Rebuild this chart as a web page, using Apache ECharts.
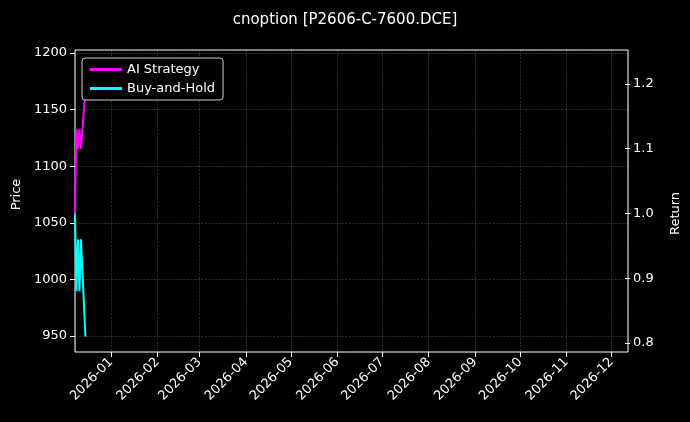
<!DOCTYPE html>
<html><head><meta charset="utf-8">
<script src="https://cdn.jsdelivr.net/npm/echarts@6/dist/echarts.min.js"></script>
<style>html,body{margin:0;background:#000}#main{width:690px;height:422px}</style>
</head><body><div id="main"></div>
<script>
var dates = ['2025-12-08','2025-12-09','2025-12-10','2025-12-11','2025-12-12','2025-12-15'];
var aiStrategy = [1.00, 1.13, 1.10, 1.13, 1.10, 1.19];
var buyHold = [1.00, 0.88, 0.96, 0.88, 0.96, 0.81];

function pairs(v){ return v.map(function(y,i){ return [dates[i], y]; }); }
var grey = 'rgba(200,200,200,0.35)';
var xMin = '2025-12-08', xMax = '2026-12-12';

var myChart = echarts.init(document.getElementById('main'));
myChart.setOption({
	backgroundColor: '#000',
	textStyle: {fontFamily: 'DejaVu Sans'},
	title: {text: 'cnoption [P2606-C-7600.DCE]', left: 'center', top: 8,
		textStyle: {color: '#fff', fontSize: 15, fontWeight: 'normal'}},
	legend: {left: 82, top: 58, orient: 'vertical', itemGap: 6, padding: [5, 8],
		borderColor: '#ccc', borderWidth: 1, borderRadius: 3, backgroundColor: '#000',
		itemWidth: 32, itemHeight: 3, icon: 'rect',
		textStyle: {color: '#fff', fontSize: 13},
		data: ['AI Strategy', 'Buy-and-Hold']},
	grid: [
		{left: 75, right: 62, top: 53, bottom: 86},
		{left: 75, right: 62, top: 84, bottom: 79},
		{left: 75, right: 62, top: 50, bottom: 70, show: true, borderColor: '#fff', borderWidth: 1}
	],
	xAxis: [
		{gridIndex: 0, type: 'time', min: xMin, max: xMax, show: false},
		{gridIndex: 1, type: 'time', min: xMin, max: xMax, show: false},
		{gridIndex: 2, type: 'time', min: xMin, max: xMax,
			minInterval: 28 * 86400000, maxInterval: 31 * 86400000,
			axisLine: {show: false},
			axisTick: {show: true, lineStyle: {color: '#fff'}},
			splitLine: {show: true, lineStyle: {color: grey, type: 'dashed', width: 0.6}},
			axisLabel: {color: '#fff', rotate: 45, fontSize: 13, hideOverlap: false,
				formatter: function(v){ var d = new Date(v); var m = d.getMonth() + 1;
					return d.getFullYear() + '-' + (m < 10 ? '0' + m : m); }}}
	],
	yAxis: [
		{gridIndex: 0, type: 'value', min: 950, max: 1200, interval: 50,
			name: 'Price', nameLocation: 'middle', nameGap: 50,
			nameTextStyle: {color: '#fff', fontSize: 13},
			axisLine: {show: false}, axisTick: {show: true, lineStyle: {color: '#fff'}},
			axisLabel: {color: '#fff', fontSize: 13, formatter: function(v){ return String(v); }},
			splitLine: {lineStyle: {color: grey, type: 'dashed', width: 0.6}}},
		{gridIndex: 1, type: 'value', position: 'right', min: 0.8, max: 1.2, interval: 0.1,
			name: 'Return', nameLocation: 'middle', nameGap: 44,
			nameTextStyle: {color: '#fff', fontSize: 13},
			axisLine: {show: false}, axisTick: {show: true, lineStyle: {color: '#fff'}},
			axisLabel: {color: '#fff', fontSize: 13, formatter: function(v){ return v.toFixed(1); }},
			splitLine: {show: false}},
		{gridIndex: 2, type: 'value', show: false}
	],
	series: [
		{name: 'AI Strategy', type: 'line', xAxisIndex: 1, yAxisIndex: 1, data: pairs(aiStrategy),
			showSymbol: false, lineStyle: {color: '#ff00ff', width: 2}, itemStyle: {color: '#ff00ff'}, z: 3},
		{name: 'Buy-and-Hold', type: 'line', xAxisIndex: 1, yAxisIndex: 1, data: pairs(buyHold),
			showSymbol: false, lineStyle: {color: '#00ffff', width: 2}, itemStyle: {color: '#00ffff'}, z: 3}
	]
});
</script></body></html>
